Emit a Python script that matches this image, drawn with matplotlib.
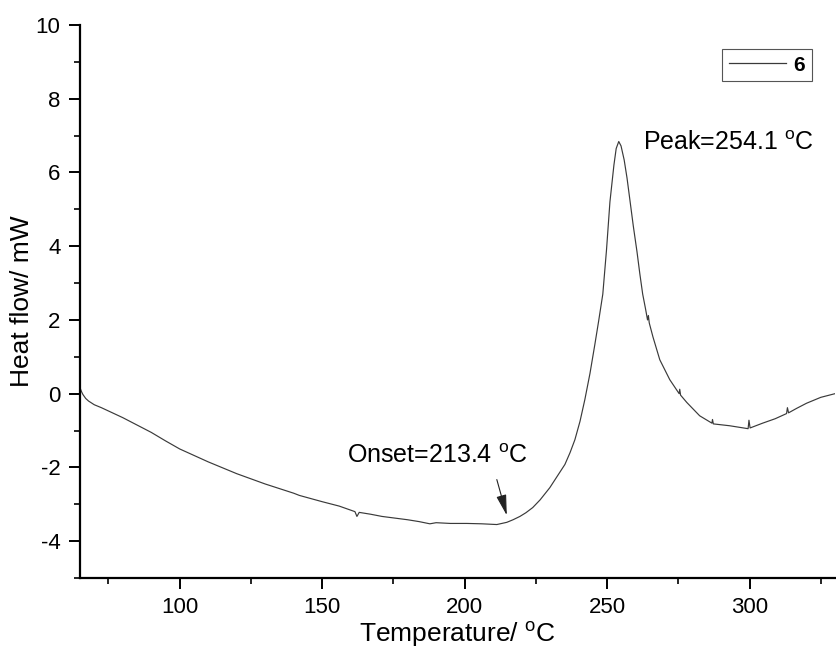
import matplotlib
matplotlib.use("Agg")
import matplotlib.pyplot as plt
from matplotlib.ticker import MultipleLocator

plt.rcParams['font.family'] = ['Liberation Sans', 'DejaVu Sans']
plt.rcParams['mathtext.fontset'] = 'custom'
plt.rcParams['mathtext.rm'] = 'Liberation Sans'
plt.rcParams['mathtext.it'] = 'Liberation Sans:italic'
plt.rcParams['mathtext.bf'] = 'Liberation Sans:bold'
plt.rcParams['axes.unicode_minus'] = False

# Temperature (°C) and heat flow (mW)
temperature = [65, 65.5, 66, 67, 68, 70, 72.5, 75, 80, 85, 90, 95, 100, 110, 120, 130, 140,
               142, 150, 156, 161.5, 162.2, 163, 167, 171, 175, 180, 184, 187.8, 190, 195,
               200.8, 206, 211.3, 214.8, 217, 219.4, 221.5, 223.9, 226.5, 229.9, 232,
               235.2, 237, 238.7, 240.5, 242.2, 244, 245.7, 247, 248.5, 249.8, 251, 252.4,
               253.2, 254.1, 254.9, 256, 257, 258, 259.2, 260.5, 261.5, 262.5, 263.5,
               264.2, 264.5, 264.8, 266.1, 268.5, 272, 275.3, 275.5, 275.8, 278, 282.5,
               286.8, 287, 287.3, 293, 299.5, 299.8, 300.2, 304.6, 309, 313, 313.3,
               313.7, 316.5, 320, 325, 330]
heat_flow = [0.16, 0.06, -0.02, -0.13, -0.2, -0.3, -0.38, -0.47, -0.65, -0.85, -1.05, -1.28,
             -1.5, -1.85, -2.17, -2.45, -2.7, -2.76, -2.93, -3.05, -3.2, -3.33, -3.22,
             -3.27, -3.33, -3.37, -3.42, -3.47, -3.53, -3.5, -3.52, -3.52, -3.53, -3.55,
             -3.49, -3.42, -3.33, -3.23, -3.09, -2.88, -2.55, -2.3, -1.92, -1.6, -1.25,
             -0.75, -0.16, 0.55, 1.33, 1.95, 2.7, 3.9, 5.2, 6.2, 6.65, 6.84, 6.72, 6.34,
             5.85, 5.26, 4.55, 3.85, 3.25, 2.7, 2.3, 2.0, 2.12, 1.92, 1.54, 0.92, 0.38,
             0.0, 0.12, -0.04, -0.24, -0.6, -0.8, -0.7, -0.82, -0.87, -0.95, -0.72, -0.93,
             -0.8, -0.68, -0.54, -0.38, -0.52, -0.4, -0.26, -0.1, 0.0]

series_label = "6"
peak_text = "Peak=254.1 $^{\\mathrm{o}}$C"
onset_text = "Onset=213.4 $^{\\mathrm{o}}$C"

x_ticks = [100, 150, 200, 250, 300]
y_ticks = [-4, -2, 0, 2, 4, 6, 8, 10]

fig = plt.figure(figsize=(8.37, 6.55), dpi=100)
ax = fig.add_axes([80/837, 77/655, 755/837, 553/655])

line, = ax.plot(temperature, heat_flow, color='#3a3a3a', lw=0.85, label=series_label)

ax.set_xlim(65, 330)
ax.set_ylim(-5, 10)
ax.set_xticks(x_ticks)
ax.set_yticks(y_ticks)
ax.xaxis.set_minor_locator(MultipleLocator(25))
ax.yaxis.set_minor_locator(MultipleLocator(1))

for s in ['top', 'right']:
    ax.spines[s].set_visible(False)
for s in ['left', 'bottom']:
    ax.spines[s].set_linewidth(1.6)

ax.tick_params(which='major', direction='out', length=8, width=1.4, labelsize=16, pad=6)
ax.tick_params(which='minor', direction='out', length=4.5, width=1.2)

ax.set_xlabel("Temperature/ $^{\\mathrm{o}}$C", fontsize=19, labelpad=1)
ax.set_ylabel("Heat flow/ mW", fontsize=19, labelpad=1)

ax.text(262.5, 6.8, peak_text, fontsize=18, va='center', ha='left')
ax.text(158.7, -1.7, onset_text, fontsize=18, va='center', ha='left')
ax.annotate("", xy=(214.8, -3.3), xytext=(211.3, -2.33),
            arrowprops=dict(arrowstyle='-|>,head_width=0.22,head_length=0.9',
                            color='#222222', lw=0.8,
                            mutation_scale=14, shrinkA=0, shrinkB=0))

leg = ax.legend(handles=[line], loc='upper right',
                bbox_to_anchor=(812/837, 606/655), bbox_transform=fig.transFigure,
                prop={'weight': 'bold', 'size': 15}, handlelength=2.75,
                handletextpad=0.35, borderpad=0.32, borderaxespad=0,
                fancybox=False, framealpha=1, edgecolor='#555555')
leg.get_frame().set_linewidth(0.8)
for h in leg.legend_handles:
    h.set_linewidth(0.9)

fig.savefig("out.png", dpi=100)
